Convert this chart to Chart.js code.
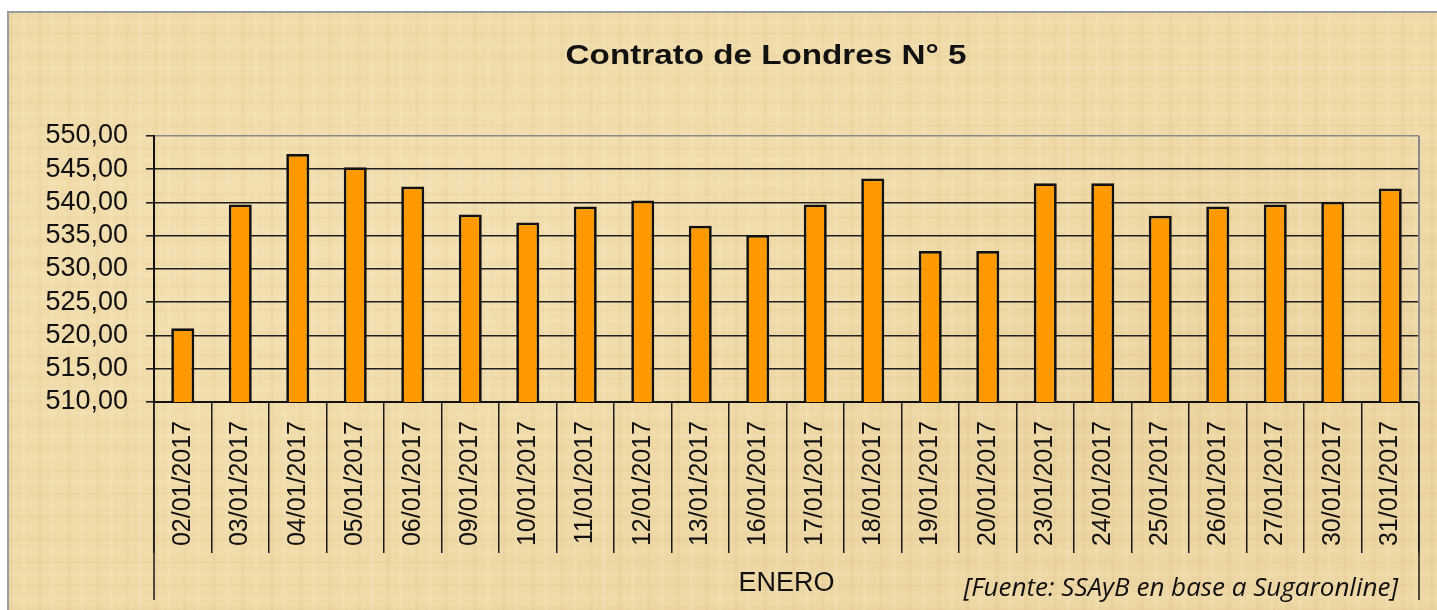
<!DOCTYPE html>
<html>
<head>
<meta charset="utf-8">
<script src="https://cdn.jsdelivr.net/npm/chart.js@4"></script>
<style>
    body { margin: 0; background: #fff; width: 1437px; height: 610px; overflow: hidden; position: relative; }
    #bg {
        position: absolute; left: 7px; top: 11px; right: 0; bottom: 0;
        border-left: 2px solid #9c9c9c; border-top: 2px solid #9c9c9c;
        background-color: #efdaa8;
        background-image:
            repeating-linear-gradient(90deg, rgba(170, 130, 60, 0.05) 0 4px, transparent 4px 13px, rgba(255, 245, 215, 0.12) 13px 17px, transparent 17px 29px),
            repeating-linear-gradient(0deg, rgba(170, 130, 60, 0.045) 0 3px, transparent 3px 11px, rgba(255, 245, 215, 0.10) 11px 15px, transparent 15px 23px),
            radial-gradient(ellipse at 30% 40%, rgba(255, 240, 200, 0.25), transparent 60%),
            radial-gradient(ellipse at 80% 70%, rgba(190, 150, 80, 0.10), transparent 55%);
    }
    #myChart { position: absolute; left: 0; top: 0; }
</style>
</head>
<body>
<div id="bg"></div>
<canvas id="myChart" width="1437" height="610"></canvas>
<script>
// Dates of January 2017 (trading days)
const labels = ['02/01/2017', '03/01/2017', '04/01/2017', '05/01/2017', '06/01/2017', '09/01/2017',
    '10/01/2017', '11/01/2017', '12/01/2017', '13/01/2017', '16/01/2017', '17/01/2017', '18/01/2017',
    '19/01/2017', '20/01/2017', '23/01/2017', '24/01/2017', '25/01/2017', '26/01/2017', '27/01/2017',
    '30/01/2017', '31/01/2017']

// Price of the London N° 5 contract
const values = [521.1, 539.7, 547.3, 545.3, 542.4, 538.2, 537.0, 539.4, 540.3, 536.5, 535.1,
    539.7, 543.6, 532.7, 532.7, 542.9, 542.9, 538.0, 539.4, 539.7, 540.1, 542.1]

const yMin = 510
const yMax = 550
const yStep = 5

const chartTitle = 'Contrato de Londres N° 5'
const groupLabel = 'ENERO'
const sourceText = '[Fuente: SSAyB en base a Sugaronline]'

// Title, source note and the frame lines of the category group
const decorations = {
    id: 'decorations',
    afterDraw(chart) {
        const ctx = chart.ctx
        const area = chart.chartArea

        ctx.save()
        // right border of the plot
        ctx.strokeStyle = '#8a8a8a'
        ctx.lineWidth = 2
        ctx.beginPath()
        ctx.moveTo(area.right, area.top)
        ctx.lineTo(area.right, area.bottom)
        ctx.stroke()

        // outer lines of the "ENERO" group
        ctx.strokeStyle = '#1a1a1a'
        ctx.lineWidth = 1.5
        ctx.beginPath()
        ctx.moveTo(area.left, area.bottom)
        ctx.lineTo(area.left, 600)
        ctx.moveTo(area.right, area.bottom)
        ctx.lineTo(area.right, 600)
        ctx.stroke()

        // title
        ctx.fillStyle = '#111'
        ctx.font = 'bold 27px "Liberation Sans", Arial, sans-serif'
        ctx.textAlign = 'center'
        ctx.textBaseline = 'alphabetic'
        ctx.translate(766, 64)
        ctx.scale(1.23, 1)
        ctx.fillText(chartTitle, 0, 0)
        ctx.restore()

        // source
        ctx.save()
        ctx.fillStyle = '#111'
        ctx.font = 'italic 500 26px "Open Sans", "DejaVu Sans", sans-serif'
        ctx.textAlign = 'right'
        ctx.textBaseline = 'alphabetic'
        ctx.fillText(sourceText, 1398, 596, 455)
        ctx.restore()
    }
}

const chart = document.getElementById('myChart').getContext('2d')

new Chart(chart, {
    type: 'bar',
    data: {
        labels: labels,
        datasets: [{
            data: values,
            backgroundColor: '#ff9900',
            borderColor: '#111',
            borderWidth: 2.7,
            borderSkipped: false,
            categoryPercentage: 1,
            barPercentage: 0.4
        }]
    },
    options: {
        responsive: false,
        animation: false,
        layout: {
            padding: { top: 136, right: 18, bottom: 0, left: 0 }
        },
        plugins: {
            legend: { display: false },
            title: { display: false },
            tooltip: { enabled: false }
        },
        scales: {
            x: {
                offset: true,
                grid: {
                    display: true,
                    drawOnChartArea: false,
                    drawTicks: true,
                    tickLength: 151,
                    color: '#1a1a1a',
                    lineWidth: 1.5
                },
                border: { display: true, color: '#111', width: 2 },
                ticks: {
                    autoSkip: false,
                    minRotation: 90,
                    maxRotation: 90,
                    padding: -132,
                    color: '#111',
                    font: { family: '"Liberation Sans", Arial, sans-serif', size: 25 }
                },
                title: {
                    display: true,
                    text: groupLabel,
                    color: '#111',
                    padding: { top: 0, bottom: 10 },
                    font: { family: '"Liberation Sans", Arial, sans-serif', size: 27 }
                },
                afterFit: (scale) => { scale.height = 208 }
            },
            y: {
                min: yMin,
                max: yMax,
                grid: {
                    color: (c) => c.tick && c.tick.value === yMax ? '#8a8a8a' : '#1f1f1f',
                    tickColor: '#1f1f1f',
                    lineWidth: 1.6,
                    tickLength: 8
                },
                border: { display: true, color: '#111', width: 2 },
                ticks: {
                    stepSize: yStep,
                    autoSkip: false,
                    padding: 18,
                    color: '#111',
                    font: { family: '"Liberation Sans", Arial, sans-serif', size: 27 },
                    callback: (v) => v.toFixed(2).replace('.', ',')
                },
                afterFit: (scale) => { scale.width = 154 }
            }
        }
    },
    plugins: [decorations]
})
</script>
</body>
</html>
